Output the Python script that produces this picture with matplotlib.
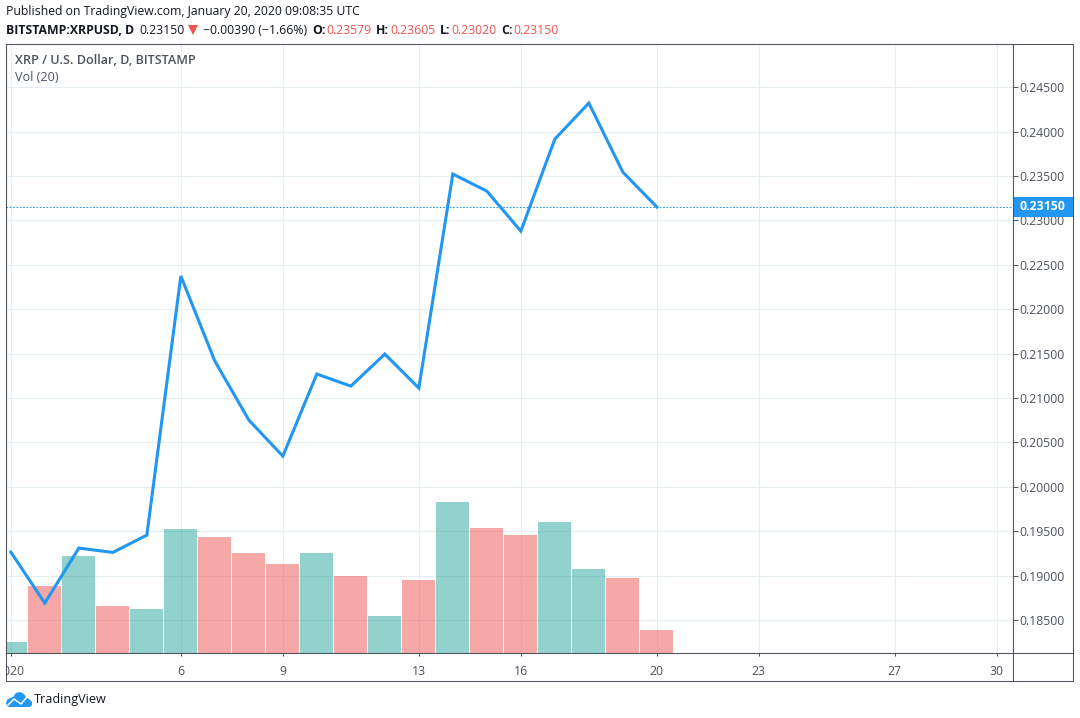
import matplotlib
matplotlib.use("Agg")
from matplotlib import pyplot as plt
from matplotlib.patches import Polygon, Rectangle
from matplotlib.transforms import Bbox

plt.rcParams["font.family"] = ["Open Sans", "DejaVu Sans"]

# Data (January 2020, daily)
days = list(range(1, 21))
close = [0.19266, 0.18692, 0.19311, 0.19262, 0.19457, 0.22373, 0.21416, 0.20752, 0.20346, 0.21270,
         0.21134, 0.21495, 0.21112, 0.23521, 0.23329, 0.22879, 0.23915, 0.24320, 0.23543, 0.23150]
volume = [11, 67, 97, 47, 44, 124, 116, 100, 89, 100, 77, 37, 73, 151, 125, 118, 131, 84, 75, 23]
vol_up = [1, 0, 1, 0, 1, 1, 0, 0, 0, 1, 0, 1, 0, 1, 0, 0, 1, 1, 0, 0]
last_price = 0.23150

price_ticks = [0.185, 0.19, 0.195, 0.2, 0.205, 0.21, 0.215, 0.22, 0.225, 0.23, 0.235, 0.24, 0.245]
date_ticks = [1, 6, 9, 13, 16, 20, 23, 27, 30]
date_labels = ["2020", "6", "9", "13", "16", "20", "23", "27", "30"]

W, H = 1080, 718
GREEN = "#26a69a"
RED = "#ef5350"
BLUE = "#2196f3"
GRID = "#e6eef4"
FRAME = "#50535e"
TEXT = "#4c525e"

fig = plt.figure(figsize=(W / 100, H / 100), dpi=100, facecolor="white")


def px_text(x, y, s, **kw):
    # position text in image pixels
    kw.setdefault("fontsize", 8.8)
    kw.setdefault("va", "center")
    return fig.text(x / W, 1 - y / H, s, **kw)


ax = fig.add_axes([6 / W, (H - 653) / H, 1007 / W, 609 / H])
ymin, ymax = 0.18130, 0.24985
ax.set_xlim(0.858, 30.475)
ax.set_ylim(ymin, ymax)

# Volume shares the price axes, scaled so it sits along the bottom
vol_scale = (ymax - ymin) / 609
colors = [GREEN if u else RED for u in vol_up]
ax.bar(days, [v * vol_scale for v in volume], width=0.97, bottom=ymin, color=colors, alpha=0.5, zorder=2)

ax.plot(days, close, color=BLUE, lw=2.2, zorder=3, solid_joinstyle="miter")
ax.axhline(last_price, color=BLUE, lw=0.75, ls=(0, (1.6, 1.6)), zorder=4)

ax.set_yticks(price_ticks)
ax.set_yticklabels(["%.5f" % p for p in price_ticks])
ax.set_xticks(date_ticks)
ax.set_xticklabels(date_labels)
ax.yaxis.tick_right()
ax.grid(True, color=GRID, lw=0.8, zorder=0)
ax.set_axisbelow(True)
ax.tick_params(axis="y", length=3.5, width=0.75, color=FRAME, labelcolor=TEXT, labelsize=8.8, pad=1)
ax.tick_params(axis="x", length=2.5, width=0.75, color=FRAME, labelcolor=TEXT, labelsize=8.8, pad=6)
for side in ax.spines.values():
    side.set_color(FRAME)
    side.set_linewidth(0.75)

# the 2020 label is cut off by the left edge of the chart
first = ax.get_xticklabels()[0]
first.set_clip_on(True)
first.set_clip_box(Bbox([[6.5, 0], [100, H]]))

# Outer frame and price/time scale separators
fig.add_artist(Rectangle((6 / W, (H - 681) / H), 1067 / W, 637 / H, transform=fig.transFigure,
                         fill=False, ec=FRAME, lw=0.75))
fig.add_artist(plt.Line2D([6 / W, 1073 / W], [(H - 653) / H] * 2, color=FRAME, lw=0.75))
fig.add_artist(plt.Line2D([1013 / W] * 2, [(H - 681) / H, (H - 44) / H], color=FRAME, lw=0.75))

# Last price label
fig.add_artist(Rectangle((1014 / W, (H - 216.5) / H), 59 / W, 19 / H, transform=fig.transFigure,
                         fc=BLUE, ec="none", zorder=5))
px_text(1020, 206.5, "%.5f" % last_price, color="white", fontweight="bold", zorder=6)

# Header
px_text(6, 12, "Published on TradingView.com, January 20, 2020 09:08:35 UTC", color="#131722")
px_text(6, 30, "BITSTAMP:XRPUSD, D", color="#131722", fontweight="bold")
px_text(139, 30, "0.23150", color="#131722")
fig.add_artist(Polygon([[188 / W, 1 - 25 / H], [198 / W, 1 - 25 / H], [193 / W, 1 - 35 / H]],
                       transform=fig.transFigure, fc=RED, ec="none"))
px_text(203, 30, "\u22120.00390 (\u22121.66%)", color="#131722")
for x, s in [(312, "O:"), (376, "H:"), (440, "L:"), (501, "C:")]:
    px_text(x, 30, s, color="#131722", fontweight="bold")
for x, s in [(326, "0.23579"), (390, "0.23605"), (451, "0.23020"), (513, "0.23150")]:
    px_text(x, 30, s, color=RED)

# Chart legend
px_text(15, 60.5, "XRP / U.S. Dollar, D, BITSTAMP", color=TEXT, fontweight="semibold", fontsize=9.1)
px_text(15, 77.5, "Vol (20)", color=TEXT, fontsize=9.1)

# Logo
cloud = [(9, 707), (7, 706), (6, 703), (7, 700), (10, 698), (13, 697), (16, 693), (20, 692), (24, 694),
         (26, 697), (29, 699), (32, 702), (32, 705), (30, 707)]
fig.add_artist(Polygon([(x / W, 1 - y / H) for x, y in cloud], transform=fig.transFigure, fc=BLUE, ec="none"))
zig = [(8, 705), (14, 699), (21, 704), (27, 697)]
fig.add_artist(plt.Line2D([x / W for x, y in zig], [1 - y / H for x, y in zig], color="white", lw=1.1))
px_text(34, 700, "TradingView", color="#131722", fontsize=9.1)

fig.savefig("out.png", dpi=100)
